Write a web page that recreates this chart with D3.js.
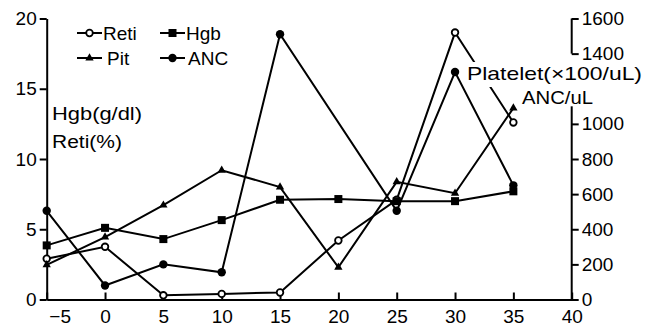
<!DOCTYPE html>
<html>
<head>
<meta charset="utf-8">
<script src="https://cdn.jsdelivr.net/npm/d3@7"></script>
<style>
body { margin: 0; background: #fff; }
svg { display: block; font-family: "Liberation Sans", Arial, sans-serif; }
.axis text { font-size: 19px; fill: #000; }
.axis path, .axis line { stroke: #000; stroke-width: 2; }
</style>
</head>
<body>
<svg width="655" height="331"></svg>
<script>
// data
const days = [-5, 0, 5, 10, 15, 20, 25, 30, 35];
const reti = [2.9, 3.75, 0.3, 0.4, 0.5, 4.2, 7.1, 19.0, 12.6];   // %
const hgb  = [3.85, 5.1, 4.3, 5.65, 7.1, 7.15, 7.0, 7.0, 7.7];    // g/dl
const plt  = [197, 355, 537, 736, 640, 183, 670, 605, 1090];      // x100/uL
const anc  = [505, 80, 200, 155, 1510, null, 505, 1295, 650];     // /uL
const xTicks = [-5, 0, 5, 10, 15, 20, 25, 30, 35, 40];
const leftTicks = [0, 5, 10, 15, 20];
const rightTicks = [0, 200, 400, 600, 800, 1000, 1400, 1600];
const rightAxisParts = [[0, 1100], [1400, 1600]];

var svg = d3.select('svg')

const x = d3.scaleLinear().domain([-5, 40]).range([46.7, 571.7]);
const yL = d3.scaleLinear().domain([0, 20]).range([299.5, 18.5]);
const yR = d3.scaleLinear().domain([0, 1600]).range([299.5, 18.5]);

// x axis, ticks pointing up
const gx = svg.append('g').attr('class', 'axis')
  .attr('transform', `translate(0,${yL(0)})`)
  .call(d3.axisBottom(x).tickValues(xTicks).tickSizeInner(-7).tickSizeOuter(0).tickPadding(10));
gx.selectAll('.tick text').filter(d => d < 0).attr('dx', 13);

// left axis
svg.append('g').attr('class', 'axis')
  .attr('transform', `translate(${x(-5)},0)`)
  .call(d3.axisLeft(yL).tickValues(leftTicks).tickSize(7).tickSizeOuter(0).tickPadding(3));

// series
const series = [
  { name: 'Reti', vals: reti, y: yL, mark: 'open' },
  { name: 'Hgb', vals: hgb, y: yL, mark: 'square' },
  { name: 'Plt', vals: plt, y: yR, mark: 'tri' },
  { name: 'ANC', vals: anc, y: yR, mark: 'dot' }
];

const line = d3.line().x(d => d[0]).y(d => d[1]);

function drawMark(g, mark, px, py) {
  if (mark === 'open') {
    g.append('circle').attr('cx', px).attr('cy', py).attr('r', 3.3)
      .attr('fill', '#fff').attr('stroke', '#000').attr('stroke-width', 1.8);
  } else if (mark === 'dot') {
    g.append('circle').attr('cx', px).attr('cy', py).attr('r', 4.2).attr('fill', '#000');
  } else if (mark === 'square') {
    g.append('rect').attr('x', px - 4).attr('y', py - 4).attr('width', 8).attr('height', 8).attr('fill', '#000');
  } else {
    g.append('path').attr('d', d3.symbol(d3.symbolTriangle, 30)())
      .attr('transform', `translate(${px},${py})`).attr('fill', '#000');
  }
}

series.forEach(s => {
  const pts = days.map((d, i) => [d, s.vals[i]]).filter(p => p[1] != null)
    .map(p => [x(p[0]), s.y(p[1])]);
  svg.append('path')
    .attr('d', line(pts))
    .attr('fill', 'none')
    .attr('stroke', '#000')
    .attr('stroke-width', 2);
  const g = svg.append('g');
  pts.forEach(p => drawMark(g, s.mark, p[0], p[1]));
});

// legend
const legend = [
  { label: 'Reti', mark: 'open', lx: 77, ly: 33, tx: 103 },
  { label: 'Hgb', mark: 'square', lx: 160, ly: 33, tx: 186 },
  { label: 'Pit', mark: 'tri', lx: 77, ly: 58, tx: 107 },
  { label: 'ANC', mark: 'dot', lx: 160, ly: 58, tx: 188 }
];
legend.forEach(l => {
  svg.append('line').attr('x1', l.lx).attr('x2', l.lx + 25)
    .attr('y1', l.ly).attr('y2', l.ly).attr('stroke', '#000').attr('stroke-width', 2);
  drawMark(svg, l.mark, l.lx + 12.5, l.ly);
  svg.append('text').attr('x', l.tx).attr('y', l.ly + 7).style('font-size', '19px').text(l.label);
});

// axis titles
svg.append('text').attr('x', 52).attr('y', 120).style('font-size', '18px')
  .attr('textLength', 90).attr('lengthAdjust', 'spacingAndGlyphs').text('Hgb(g/dl)');
svg.append('text').attr('x', 52).attr('y', 148).style('font-size', '18px')
  .attr('textLength', 70).attr('lengthAdjust', 'spacingAndGlyphs').text('Reti(%)');

svg.append('rect').attr('x', 464).attr('y', 62).attr('width', 182).attr('height', 25).attr('fill', '#fff');
svg.append('rect').attr('x', 518).attr('y', 87).attr('width', 80).attr('height', 21).attr('fill', '#fff');
svg.append('text').attr('x', 467).attr('y', 80).style('font-size', '19px')
  .attr('textLength', 175).attr('lengthAdjust', 'spacingAndGlyphs').text('Platelet(×100/uL)');
svg.append('text').attr('x', 522).attr('y', 104).style('font-size', '19px')
  .attr('textLength', 71).attr('lengthAdjust', 'spacingAndGlyphs').text('ANC/uL');

// right axis (broken)
const gr = svg.append('g').attr('class', 'axis')
  .attr('transform', `translate(${x(40)},0)`)
  .call(d3.axisRight(yR).tickValues(rightTicks).tickFormat(d3.format('d'))
    .tickSize(7).tickSizeOuter(0).tickPadding(3));
gr.select('.domain').remove();
gr.selectAll('.part')
  .data(rightAxisParts)
  .enter()
  .append('line')
  .attr('x1', 0).attr('x2', 0)
  .attr('y1', d => yR(d[0]))
  .attr('y2', d => yR(d[1]))
  .attr('stroke', '#000')
  .attr('stroke-width', 2);
</script>
</body>
</html>
